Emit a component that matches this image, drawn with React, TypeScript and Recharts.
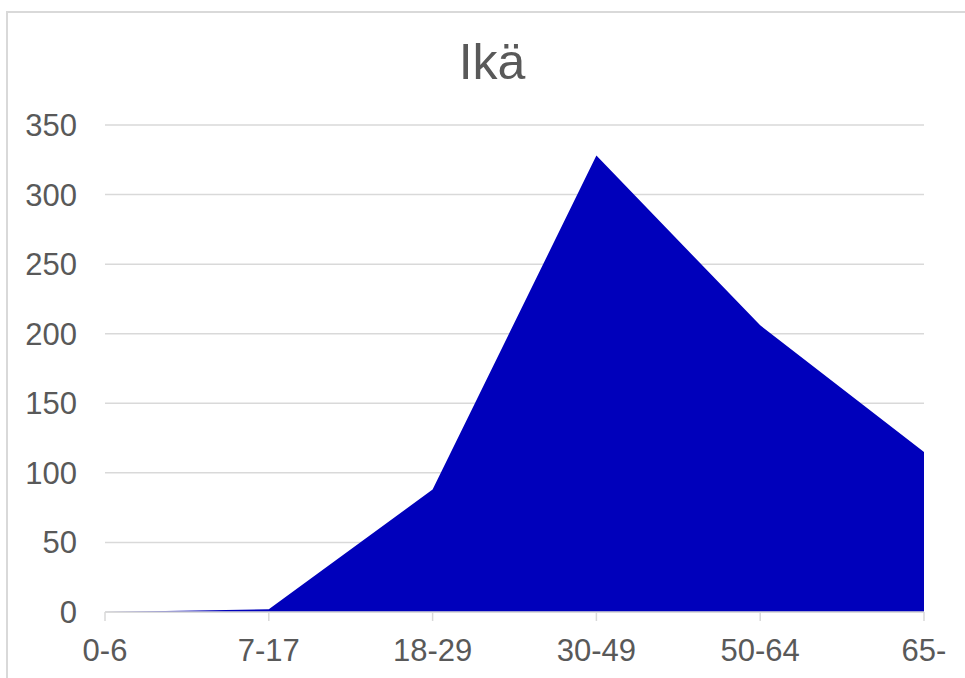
import { AreaChart, Area, XAxis, YAxis, CartesianGrid } from "recharts";

const ikaryhmat = ["0-6", "7-17", "18-29", "30-49", "50-64", "65-"];
const maarat = [0, 2, 88, 328, 206, 115];
const yTicks = [0, 50, 100, 150, 200, 250, 300, 350];

const data = ikaryhmat.map((ryhma, i) => ({ ryhma, maara: maarat[i] }));

const font = "'Liberation Sans', Arial, sans-serif";
const grey = "#595959";
const line = "#d9d9d9";

export default function App() {
  return (
    <div
      style={{
        position: "absolute",
        left: 0,
        top: 0,
        width: 965,
        height: 678,
        background: "#fff",
        fontFamily: font,
        overflow: "hidden",
      }}
    >
      {/* chart frame, cut off at right and bottom */}
      <div
        style={{
          position: "absolute",
          left: 6,
          top: 11,
          width: 1000,
          height: 1000,
          border: `2px solid ${line}`,
          boxSizing: "border-box",
        }}
      />
      <div
        style={{
          position: "absolute",
          left: 292,
          top: 37,
          width: 400,
          textAlign: "center",
          fontSize: 50,
          lineHeight: 1,
          color: grey,
        }}
      >
        Ikä
      </div>
      <div style={{ position: "absolute", left: 0, top: 0 }}>
        <AreaChart
          width={965}
          height={678}
          data={data}
          margin={{ top: 125, right: 41, bottom: 0, left: 0 }}
        >
          <CartesianGrid vertical={false} stroke={line} strokeWidth={1.5} />
          <XAxis
            dataKey="ryhma"
            height={66}
            stroke={line}
            strokeWidth={1.5}
            tickSize={9}
            tickMargin={18}
            tick={{ fill: grey, fontSize: 31, fontFamily: font }}
            interval={0}
          />
          <YAxis
            width={105}
            domain={[0, 350]}
            ticks={yTicks}
            axisLine={false}
            tickLine={false}
            tickSize={0}
            tickMargin={28}
            tick={{ fill: grey, fontSize: 31, fontFamily: font }}
          />
          <Area
            type="linear"
            dataKey="maara"
            fill="#0000bb"
            fillOpacity={1}
            stroke="none"
            isAnimationActive={false}
          />
        </AreaChart>
      </div>
    </div>
  );
}
